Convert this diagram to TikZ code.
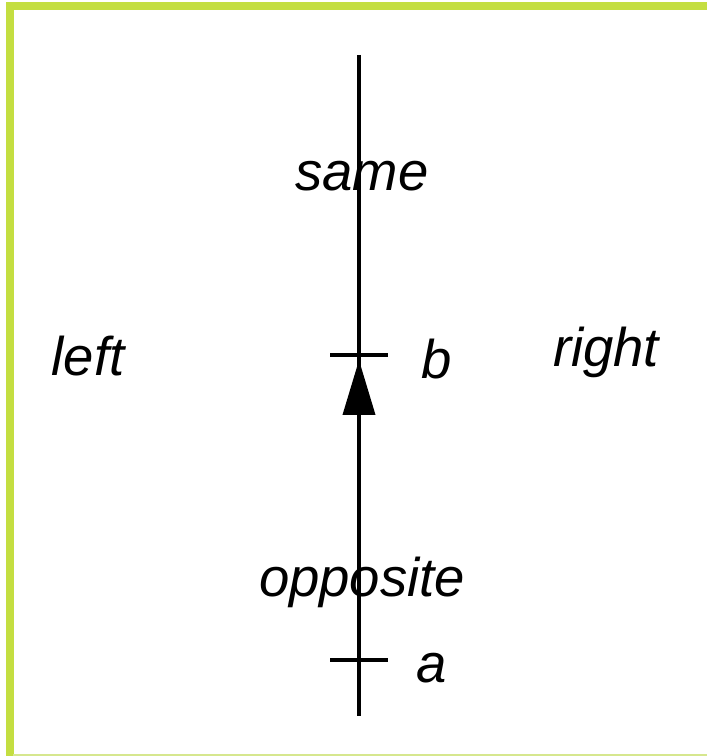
\documentclass[tikz,border=0pt]{standalone}
\usepackage{fontspec}
\setmainfont{Liberation Sans}
\usepackage{tikz}
\usetikzlibrary{arrows.meta,positioning}
\definecolor{frame}{HTML}{C4DE41}
\definecolor{framelt}{HTML}{D6E78E}

\begin{document}
\begin{tikzpicture}[
  x=0.02cm, y=-0.02cm,
  lbl/.style={font=\fontsize{31}{36}\selectfont\itshape, inner sep=0pt},
  axis/.style={line width=2.2pt},
  tick/.style={line width=2pt},
  border/.style={draw=frame, line width=0.17cm}
]
  \useasboundingbox (0,0) rectangle (707,756);
  % frame
  \draw[border] (10,756) -- (10,6) -- (707,6);
  \draw[framelt, line width=0.04cm] (13,755) -- (707,755);

  % the directed line
  \coordinate (top) at (359,55);
  \coordinate (bot) at (359,716);
  \coordinate (b) at (359,355);
  \coordinate (a) at (359,660);
  \coordinate (tip) at (359,360);
  \draw[axis] (top) -- (bot);
  \draw[tick] ([xshift=-29*0.02cm]b) -- ([xshift=29*0.02cm]b);
  \draw[tick] ([xshift=-29*0.02cm]a) -- ([xshift=29*0.02cm]a);
  \draw[axis, -{Triangle[length=1.1cm, width=0.64cm]}] (a) -- (tip);

  \node[lbl] (same) at (362,176) {same};
  \node[lbl] (opposite) at (362,582) {opposite};
  \node[lbl] (left) at (88,356) {left};
  \node[lbl] (right) at (606,352) {right};
  \node[lbl] (labb) at (437,359) {b};
  \node[lbl] (laba) at (432,668) {a};
\end{tikzpicture}
\end{document}
